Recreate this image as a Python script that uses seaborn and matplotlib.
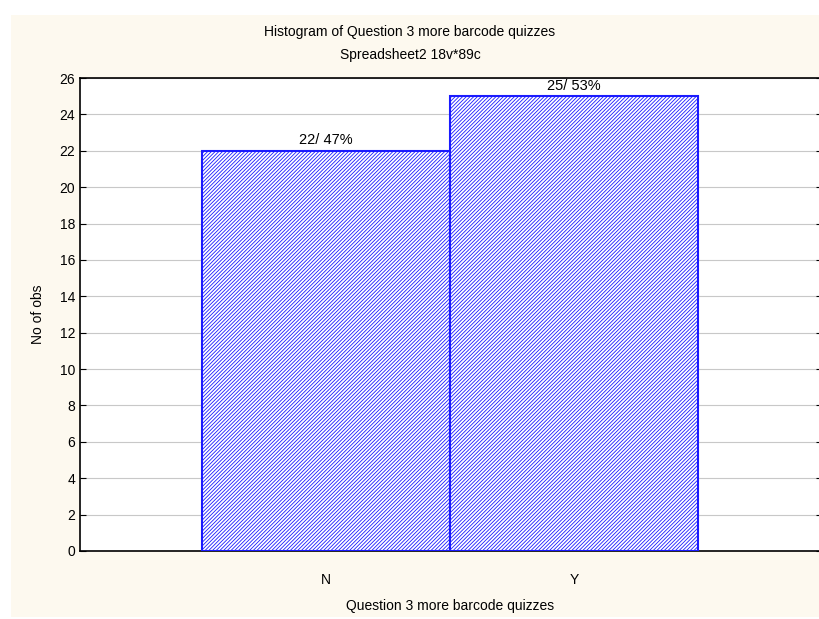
import matplotlib
matplotlib.use("Agg")
import matplotlib.pyplot as plt
import seaborn as sns
from matplotlib.patches import Rectangle

# ---------- Data ----------
categories = ["N", "Y"]
counts = [22, 25]
percents = [47, 53]
y_ticks = list(range(0, 27, 2))

# ---------- Theme ----------
sns.set_style("white")
plt.rcParams["font.family"] = ["Liberation Sans", "DejaVu Sans"]
plt.rcParams["text.color"] = "black"
plt.rcParams["axes.labelcolor"] = "black"
plt.rcParams["xtick.color"] = "black"
plt.rcParams["ytick.color"] = "black"
plt.rcParams["hatch.linewidth"] = 0.6
plt.rcParams["hatch.color"] = "#3a3aff"

CREAM = "#fdf9ef"
BLUE = "#1a1aff"

fig = plt.figure(figsize=(8.2, 6.19), dpi=100, facecolor="white")
fig.patches.append(Rectangle((11 / 820, 2 / 619), 809 / 820, 602 / 619,
                             transform=fig.transFigure, facecolor=CREAM,
                             edgecolor="none", zorder=-10))
ax = fig.add_axes([80 / 820, 1 - 551 / 619, 742 / 820, 473 / 619])
ax.set_facecolor("white")

sns.barplot(x=categories, y=counts, color="white", edgecolor=BLUE,
            linewidth=1.5, width=1.0, hatch="/////////", ax=ax, zorder=3)

for i, (c, p) in enumerate(zip(counts, percents)):
    ax.text(i, c + 0.2, f"{c}/ {p}%", ha="center", va="bottom",
            fontsize=10.5, zorder=4)

ax.set_xlim(-0.99, 2.0)
ax.set_ylim(0, 26)
ax.set_yticks(y_ticks)
ax.yaxis.grid(True, color="#c8c8c8", linewidth=0.8, zorder=0)
ax.set_axisbelow(True)

for s in ax.spines.values():
    s.set_color("black")
    s.set_linewidth(1.2)

ax.tick_params(axis="y", left=True, direction="out", length=4,
               labelsize=10, width=0.8)
ax.tick_params(axis="y", right=True, direction="in")
ax.tick_params(axis="x", bottom=False, labelsize=10, pad=12)

ax.set_xlabel("")
ax.set_ylabel("No of obs", fontsize=10, labelpad=10)
fig.text(450 / 820, 1 - 606 / 619, "Question 3 more barcode quizzes",
         ha="center", va="center", fontsize=10)

fig.text(0.5, 1 - 32 / 619, "Histogram of Question 3 more barcode quizzes",
         ha="center", va="center", fontsize=10)
fig.text(0.5, 1 - 55 / 619, "Spreadsheet2 18v*89c",
         ha="center", va="center", fontsize=10)

fig.savefig("out.png", dpi=100, facecolor=fig.get_facecolor())
